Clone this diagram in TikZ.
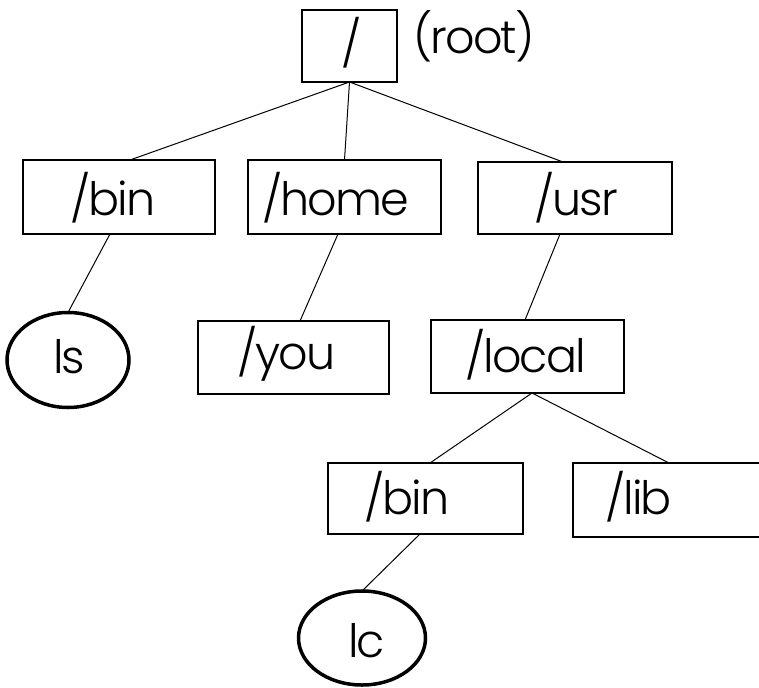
\documentclass[tikz,border=0pt]{standalone}
\usepackage{fontspec}
\setmainfont{Poppins}[UprightFont={* Light},LetterSpace=-4]
\usetikzlibrary{shapes.geometric}
\begin{document}
\begin{tikzpicture}[x=1pt,y=-1pt,
  dirbox/.style={draw,line width=1.5pt,rectangle,inner sep=0pt,outer sep=0pt},
  filenode/.style={draw,line width=3.5pt,ellipse,inner sep=0pt,outer sep=0pt},
  lbl/.style={anchor=base west,inner sep=0pt,outer sep=0pt,font=\fontsize{46}{50}\selectfont},
  conn/.style={line width=1pt}]
\useasboundingbox (0,0) rectangle (759,687);
% boxes
\node[dirbox,minimum width=95pt,minimum height=72pt] (root) at (349.5,46) {};
\node[dirbox,minimum width=192pt,minimum height=74pt] (bin) at (119,197) {};
\node[dirbox,minimum width=193pt,minimum height=74pt] (home) at (344.5,197) {};
\node[dirbox,minimum width=194pt,minimum height=72pt] (usr) at (575,198) {};
\node[filenode,minimum width=122pt,minimum height=95pt] (ls) at (68,360) {};
\node[dirbox,minimum width=191pt,minimum height=73pt] (you) at (293.5,357.5) {};
\node[dirbox,minimum width=193pt,minimum height=73pt] (local) at (527.5,356.5) {};
\node[dirbox,minimum width=195pt,minimum height=71pt] (bintwo) at (425.5,498.5) {};
\node[dirbox,minimum width=192pt,minimum height=74pt] (lib) at (669,500) {};
\node[filenode,minimum width=127pt,minimum height=94pt] (lc) at (362,638) {};
% labels
\node[lbl] (troot) at (341,61) {/};
\node[lbl] (troottag) at (413,54) {(root)};
\node[lbl] (tbin) at (70,215) {/bin};
\node[lbl] (thome) at (262,215) {/home};
\node[lbl] (tusr) at (534,215) {/usr};
\node[lbl] (tls) at (53,373) {ls};
\node[lbl] (tyou) at (237,369) {/you};
\node[lbl] (tlocal) at (465,372) {/local};
\node[lbl] (tbintwo) at (364,514) {/bin};
\node[lbl] (tlib) at (605,514) {/lib};
\node[lbl] (tlc) at (348,657) {lc};
% connectors
\draw[conn] (root.south) -- ([xshift=11pt]bin.north);
\draw[conn] (root.south) -- (home.north);
\draw[conn] (root.south) -- ([xshift=-12pt]usr.north);
\draw[conn] ([xshift=-9pt]bin.south) -- (ls.north);
\draw[conn] ([xshift=-6.5pt]home.south) -- ([xshift=6.5pt]you.north);
\draw[conn] ([xshift=-15pt]usr.south) -- ([xshift=-2.5pt]local.north);
\draw[conn] ([xshift=4.5pt]local.south) -- ([xshift=4.5pt]bintwo.north);
\draw[conn] ([xshift=4.5pt]local.south) -- (lib.north);
\draw[conn] ([xshift=-5.5pt]bintwo.south) -- (lc.north);
\end{tikzpicture}
\end{document}
